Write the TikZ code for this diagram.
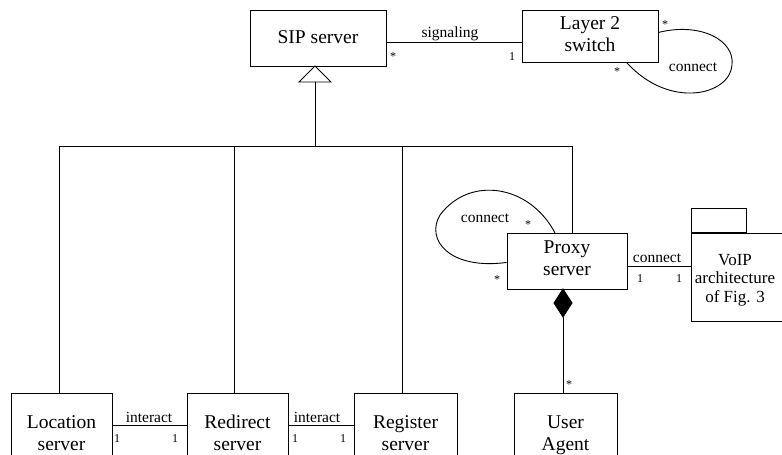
\documentclass[tikz,border=0pt]{standalone}
\usepackage{fontspec}
\setmainfont{Liberation Serif}
\newcommand\bxfont{\fontsize{19.5}{22}\selectfont}
\newcommand\lbfont{\fontsize{15.5}{17}\selectfont}
\newcommand\mlfont{\fontsize{12}{13}\selectfont}
\newcommand\pkfont{\fontsize{17}{18.5}\selectfont}
\begin{document}
\begin{tikzpicture}[x=1pt,y=-1pt,line width=0.9pt,
  umlbox/.style={draw,inner sep=0pt,align=center,font=\bxfont,anchor=north},
  lbl/.style={inner sep=0pt,font=\lbfont},
  mult/.style={inner sep=0pt,font=\mlfont}]
\clip (0,0) rectangle (782,455);
% classes
\node[umlbox,minimum width=136pt,text height=33pt,text depth=23pt] (sip) at (318,10) {SIP server};
\node[umlbox,minimum width=136pt,text height=41pt,text depth=11pt] (l2) at (590,10) {Layer 2\\switch};
\node[umlbox,minimum width=120pt,text height=42pt,text depth=14pt] (proxy) at (567,233) {Proxy\\server};
\node[umlbox,minimum width=101pt,text height=57pt,text depth=70pt] (loc) at (61.5,393) {Location\\server};
\node[umlbox,minimum width=101pt,text height=57pt,text depth=70pt] (red) at (237.5,393) {Redirect\\server};
\node[umlbox,minimum width=103pt,text height=57pt,text depth=70pt] (reg) at (405.5,393) {Register\\server};
\node[umlbox,minimum width=103pt,text height=57pt,text depth=70pt] (ua) at (565.5,393) {User\\Agent};
% package
\node[draw,inner sep=0pt,minimum width=130pt,minimum height=88pt,anchor=north west] (voip) at (691,233) {};
\node[draw,inner sep=0pt,minimum width=55pt,minimum height=24pt,anchor=south west] (tab) at (voip.north west) {};
\node[inner sep=0pt,align=center,font=\pkfont,anchor=north,text height=69pt] (voiptxt) at (735,233) {VoIP\\architecture\\of Fig. 3};
% signaling
\draw ([yshift=-4pt]sip.east) -- ([yshift=-4pt]sip.east -| l2.west);
\node[lbl] (lsig) at (450,34) {signaling};
\node[mult] (ms1) at (393,57) {*};
\node[mult] (ms2) at (512,57) {1};
% layer 2 self loop
\draw ([yshift=4pt]l2.east) .. controls (700,22) and (735,40) .. (732,65) .. controls (730,95) and (670,110) .. ([xshift=37pt]l2.south);
\node[mult] (ml1) at (665,25) {*};
\node[mult] (ml2) at (617,72) {*};
\node[lbl] (lcl) at (693,67) {connect};
% generalization
\coordinate (gen) at (315,66);
\coordinate (genb) at (315,82);
\coordinate (bm) at (315,146);
\coordinate (busL) at (59,146);
\coordinate (bus2) at (234,146);
\coordinate (bus3) at (402,146);
\coordinate (busR) at (572,146);
\draw (gen) -- ++(-16,16) -- ++(32,0) -- cycle;
\draw (genb) -- (bm);
\draw (busL) -- (busR);
\draw (busL) -- (busL |- loc.north);
\draw (bus2) -- (bus2 |- red.north);
\draw (bus3) -- (bus3 |- reg.north);
\draw (busR) -- (busR |- proxy.north);
% proxy self loop
\draw ([xshift=-12pt]proxy.north) .. controls (530,185) and (470,175) .. (440,215) .. controls (425,240) and (450,270) .. ([yshift=-1pt]proxy.west);
\node[lbl] (lcp) at (485,218) {connect};
\node[mult] (mp1) at (528,225) {*};
\node[mult] (mp2) at (497,280) {*};
% proxy - voip
\draw ([yshift=-5pt]proxy.east) -- ([yshift=-5pt]proxy.east -| voip.west);
\node[lbl] (lcv) at (657,258) {connect};
\node[mult] (mv1) at (640,279) {1};
\node[mult] (mv2) at (679,279) {1};
% composition
\coordinate (dtop) at (563,289);
\coordinate (dbot) at (563,317);
\filldraw (dtop) -- ++(9,14) -- ++(-9,14) -- ++(-9,-14) -- cycle;
\draw (dbot) -- (dbot |- ua.north);
\node[mult] (mu) at (569,385) {*};
% interact
\draw ([yshift=-32pt]loc.north east) -- ([yshift=-32pt]red.north west);
\node[lbl] (li1) at (149,417) {interact};
\node[mult] (mi1) at (117,439) {1};
\node[mult] (mi2) at (175,439) {1};
\draw ([yshift=-32pt]red.north east) -- ([yshift=-32pt]reg.north west);
\node[lbl] (li2) at (317,417) {interact};
\node[mult] (mi3) at (295,439) {1};
\node[mult] (mi4) at (343,439) {1};
\end{tikzpicture}
\end{document}
